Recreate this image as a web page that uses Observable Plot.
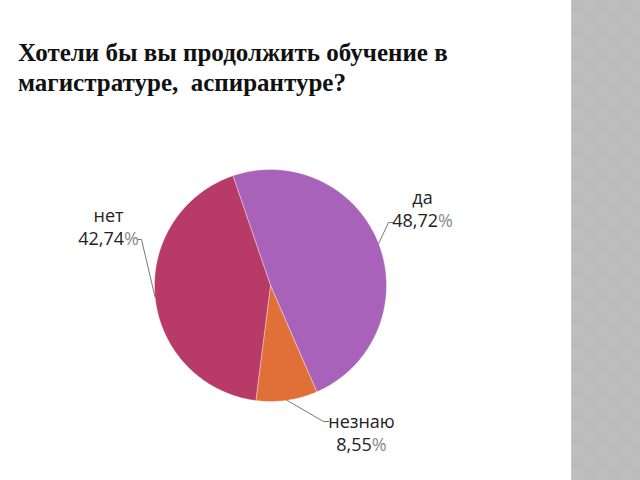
<!DOCTYPE html>
<html>
<head>
<meta charset="utf-8">
<script src="https://cdn.jsdelivr.net/npm/d3@7"></script>
<script src="https://cdn.jsdelivr.net/npm/@observablehq/plot@0.6"></script>
<style>
  html, body { margin: 0; padding: 0; width: 640px; height: 480px; background: #fff; overflow: hidden; }
  #title { position: absolute; left: 18px; top: 38px; font-family: "Liberation Serif", "Times New Roman", serif; font-weight: bold; font-size: 25px; line-height: 30px; color: #111; white-space: pre; }
  #band { position: absolute; left: 571px; top: 0; width: 69px; height: 480px; background-color: #bcbcbc;
    background-image:
      linear-gradient(45deg, rgba(255,255,255,0.035) 25%, transparent 25%, transparent 75%, rgba(255,255,255,0.035) 75%),
      linear-gradient(45deg, rgba(255,255,255,0.035) 25%, transparent 25%, transparent 75%, rgba(255,255,255,0.035) 75%);
    background-size: 24px 24px; background-position: 0 0, 12px 12px;
    border-left: 1px solid #c8c8c8; }
  #chart { position: absolute; left: 0; top: 0; }
</style>
</head>
<body>
<div id="band"></div>
<div id="chart"></div>
<div id="title">Хотели бы вы продолжить обучение в
магистратуре,  аспирантуре?</div>
<script>
// ---- data ----
const categories = ["да", "незнаю", "нет"];
const values = [48.72, 8.55, 42.74];
const valueLabels = ["48,72", "8,55", "42,74"];

// ---- layout (pixels) ----
const W = 560, H = 480;
const cx = 270, cy = 285, R = 116;
const startDeg = -18.9; // clockwise from 12 o'clock
const labelFont = '18px "Open Sans"';
const labelLayout = {
  "да":     {x: 422, y1: 199, y2: 222, elbow: [388, 222], end: [392, 222]},
  "незнаю": {x: 361, y1: 423, y2: 446, elbow: [323, 421], end: [328, 421]},
  "нет":    {x: 108, y1: 217, y2: 240, elbow: [141, 239], end: [137, 239]}
};
const colorRange = ["#a962b9", "#e06f38", "#b83a66"];

// ---- build slices ----
const total = d3.sum(values);
const slicePts = [];
const leaderPts = [];
const nameRows = [];
const numRows = [];
const pctRows = [];
const canvas = document.createElement("canvas");
const ctx = canvas.getContext("2d");
ctx.font = labelFont;
let acc = startDeg;
categories.forEach((c, i) => {
  const a0 = acc, a1 = acc + values[i] / total * 360;
  acc = a1;
  const toXY = (deg, r) => {
    const t = deg * Math.PI / 180;
    return [cx + r * Math.sin(t), cy - r * Math.cos(t)];
  };
  slicePts.push({cat: c, x: cx, y: cy});
  const n = Math.max(8, Math.ceil((a1 - a0) / 1));
  for (let k = 0; k <= n; k++) {
    const [x, y] = toXY(a0 + (a1 - a0) * k / n, R);
    slicePts.push({cat: c, x, y});
  }
  slicePts.push({cat: c, x: cx, y: cy});
  const L = labelLayout[c];
  const [ex, ey] = toXY((a0 + a1) / 2, R);
  leaderPts.push({cat: c, x: ex, y: ey}, {cat: c, x: L.elbow[0], y: L.elbow[1]}, {cat: c, x: L.end[0], y: L.end[1]});
  nameRows.push({cat: c, text: c, x: L.x, y: L.y1});
  const numW = ctx.measureText(valueLabels[i]).width;
  const pctW = ctx.measureText("%").width;
  const split = L.x - (numW + pctW) / 2 + numW;
  numRows.push({cat: c, text: valueLabels[i], x: split, y: L.y2});
  pctRows.push({cat: c, text: "%", x: split, y: L.y2});
});

const plot = Plot.plot({
  width: W, height: H,
  margin: 0,
  style: {background: "transparent", fontFamily: "Open Sans"},
  x: {domain: [0, W], range: [0, W], axis: null},
  y: {domain: [0, H], range: [0, H], axis: null},
  color: {domain: categories, range: colorRange},
  marks: [
    Plot.line(slicePts, {x: "x", y: "y", z: "cat", fill: "cat", stroke: "#ffffff", strokeWidth: 0.6, strokeOpacity: 0.6, curve: "linear"}),
    Plot.line(leaderPts, {x: "x", y: "y", z: "cat", stroke: "#555", strokeWidth: 0.8}),
    Plot.text(nameRows, {x: "x", y: "y", text: "text", textAnchor: "middle", lineAnchor: "bottom", fontSize: 18, fill: "#222", dy: 4}),
    Plot.text(numRows, {x: "x", y: "y", text: "text", textAnchor: "end", lineAnchor: "bottom", fontSize: 18, fill: "#222", dy: 4}),
    Plot.text(pctRows, {x: "x", y: "y", text: "text", textAnchor: "start", lineAnchor: "bottom", fontSize: 18, fill: "#8a8a8a", dy: 4})
  ]
});
document.getElementById("chart").appendChild(plot);
</script>
</body>
</html>
